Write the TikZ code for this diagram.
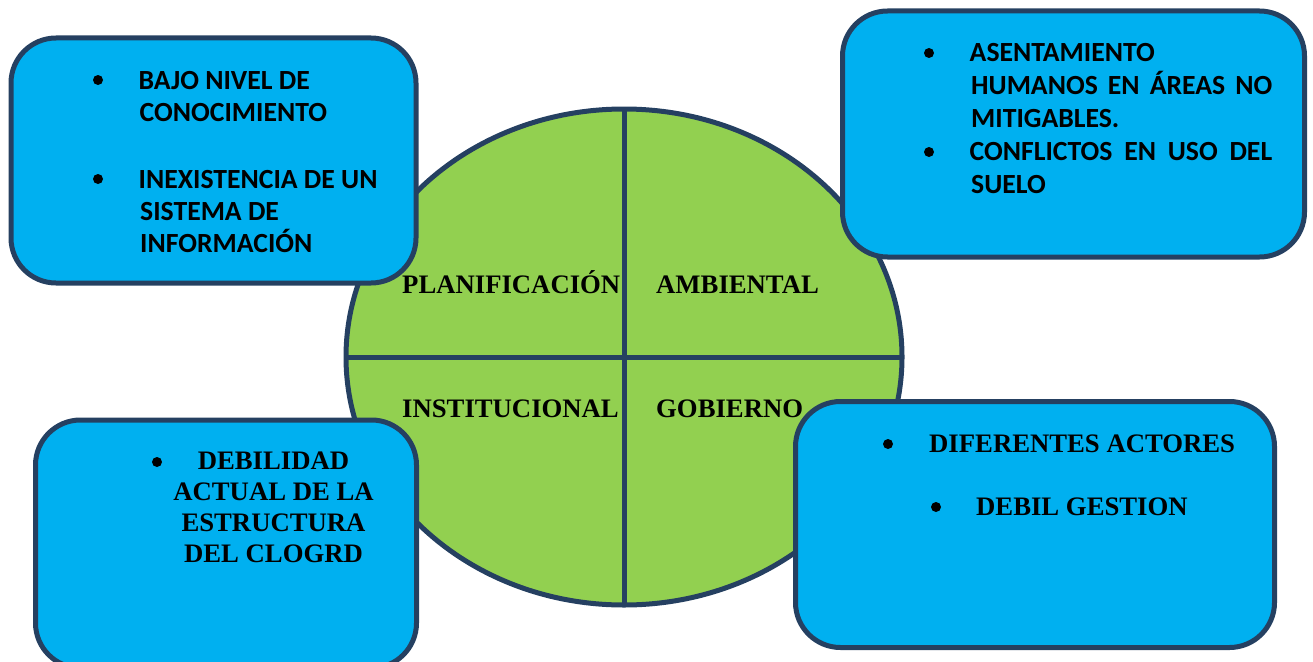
\documentclass[tikz,border=0pt]{standalone}
\usepackage{fontspec}
\usetikzlibrary{shapes.geometric}
\setmainfont{Liberation Serif}
\newfontfamily\carl{Carlito}
\definecolor{boxblue}{HTML}{00B0F0}
\definecolor{disc}{HTML}{92D050}
\definecolor{edge}{HTML}{254061}
\newcommand\leftlines[2]{\vtop{\baselineskip=#1pt\halign{##\hfil\cr#2\cr}}}
\newcommand\midlines[2]{\vtop{\baselineskip=#1pt\halign{\hfil##\hfil\cr#2\cr}}}
\newcommand\spread[2]{\hbox to #1pt{#2}}
\tikzset{
  panel/.style={draw=edge,line width=5pt,fill=boxblue,rounded corners=45pt},
  sanstext/.style={anchor=base west,inner sep=0pt,font=\carl\bfseries\fontsize{27.7}{32}\selectfont},
  seriftext/.style={anchor=base west,inner sep=0pt,font=\bfseries\fontsize{26.7}{31}\selectfont},
  dot/.style={anchor=center,inner sep=0pt,circle,fill=black,minimum size=10pt},
}
\begin{document}
\begin{tikzpicture}[x=1pt,y=-1pt]
\useasboundingbox (0,0) rectangle (1313,661);
\node[draw=edge,line width=5pt,fill=disc,ellipse,inner sep=0pt,outer sep=0pt,minimum width=556pt,minimum height=496pt] (disk) at (624,357) {};
\draw[edge,line width=5pt] (disk.north) -- (disk.south);
\draw[edge,line width=5pt] (disk.west) -- (disk.east);
\draw[panel] (11,38) rectangle (416,283);
\draw[panel] (842.5,11) rectangle (1304.5,257);
\draw[panel] (35.5,420) rectangle (416.5,668);
\draw[panel] (795.5,401.5) rectangle (1274.5,647.5);
\node[seriftext] (plan) at (402,293) {PLANIFICACIÓN};
\node[seriftext] (amb) at (656,293) {AMBIENTAL};
\node[seriftext] (inst) at (402,417) {INSTITUCIONAL};
\node[seriftext] (gob) at (656,417) {GOBIERNO};
\node[dot] (d1) at (98,80) {};
\node[sanstext] (t1) at (138.5,89) {\leftlines{32}{BAJO NIVEL DE\cr\hskip1pt CONOCIMIENTO}};
\node[dot] (d2) at (98,179) {};
\node[sanstext] (t2) at (138.5,188) {\leftlines{32.3}{INEXISTENCIA DE UN\cr\hskip1.5pt SISTEMA DE\cr\hskip1.5pt INFORMACIÓN}};
\node[dot] (d3) at (929,53) {};
\node[dot] (d3b) at (929,152) {};
\node[sanstext] (t3) at (969.5,61.5) {\leftlines{33}{ASENTAMIENTO\cr\hskip1.5pt\spread{301}{HUMANOS\hfil EN\hfil ÁREAS\hfil NO}\cr\hskip1.5pt MITIGABLES.\cr\spread{302.5}{CONFLICTOS\hfil EN\hfil USO\hfil DEL}\cr\hskip1.5pt SUELO}};
\node[dot] (d4) at (157,462) {};
\node[seriftext,anchor=base] (t4) at (273.5,469) {\midlines{31}{DEBILIDAD\cr ACTUAL DE LA\cr ESTRUCTURA\cr DEL CLOGRD}};
\node[dot] (d5) at (888,444) {};
\node[seriftext] (t5) at (929,452) {DIFERENTES ACTORES};
\node[dot] (d6) at (936,507) {};
\node[seriftext] (t6) at (976,515) {DEBIL GESTION};
\end{tikzpicture}
\end{document}
